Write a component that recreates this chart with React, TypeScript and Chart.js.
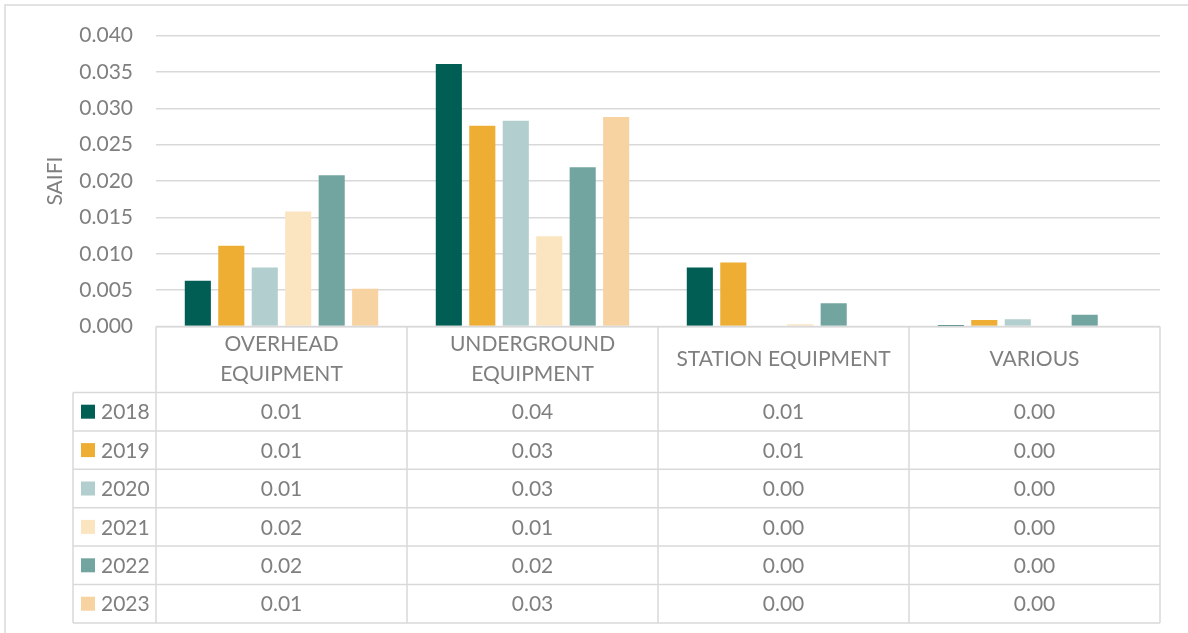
import React, { useEffect, useRef } from "react";
import { Chart, registerables } from "chart.js";

Chart.register(...registerables);

const categories: string[][] = [
  ["OVERHEAD", "EQUIPMENT"],
  ["UNDERGROUND", "EQUIPMENT"],
  ["STATION EQUIPMENT"],
  ["VARIOUS"],
];
const years = ["2018", "2019", "2020", "2021", "2022", "2023"];
const s2018 = [0.0063, 0.0361, 0.0081, 0.0002];
const s2019 = [0.0111, 0.0276, 0.0088, 0.0009];
const s2020 = [0.0081, 0.0283, 0.0, 0.001];
const s2021 = [0.0158, 0.0124, 0.0003, 0.0];
const s2022 = [0.0208, 0.0219, 0.0032, 0.0016];
const s2023 = [0.0052, 0.0288, 0.0, 0.0];
const seriesValues = [s2018, s2019, s2020, s2021, s2022, s2023];
const colors = ["#005E55", "#EDAE33", "#B3CECE", "#FBE5C0", "#73A5A0", "#F7D3A1"];
const yTicks = [0, 0.005, 0.01, 0.015, 0.02, 0.025, 0.03, 0.035, 0.04];

const FONT = "Lato, 'Open Sans', sans-serif";
const TEXT = "#7F7F7F";
const LINE = "#D9D9D9";

const tablePlugin = {
  id: "dataTable",
  beforeDraw(chart: any) {
    const ctx = chart.ctx;
    ctx.save();
    ctx.strokeStyle = LINE;
    ctx.lineWidth = 1.5;
    ctx.strokeRect(5, 5, chart.width + 20, chart.height + 20);
    ctx.restore();
  },
  afterDraw(chart: any) {
    const ctx = chart.ctx;
    const area = chart.chartArea;
    const n = categories.length;
    const colW = (area.right - area.left) / n;
    const top = area.bottom;
    const headerH = 66;
    const rowH = 38.4;
    const tableLeft = 73;
    const headerBottom = top + headerH;
    const bottom = headerBottom + rowH * years.length;

    ctx.save();
    ctx.strokeStyle = LINE;
    ctx.lineWidth = 1.5;
    ctx.beginPath();
    ctx.moveTo(area.left, top);
    ctx.lineTo(area.right, top);
    for (let r = 0; r <= years.length; r++) {
      const y = headerBottom + r * rowH;
      ctx.moveTo(tableLeft, y);
      ctx.lineTo(area.right, y);
    }
    ctx.moveTo(tableLeft, headerBottom);
    ctx.lineTo(tableLeft, bottom);
    for (let c = 0; c <= n; c++) {
      const x = area.left + c * colW;
      ctx.moveTo(x, top);
      ctx.lineTo(x, bottom);
    }
    ctx.stroke();

    ctx.fillStyle = TEXT;
    ctx.font = `21px ${FONT}`;
    ctx.textBaseline = "middle";
    ctx.textAlign = "center";
    categories.forEach((lines, c) => {
      const cx = area.left + (c + 0.5) * colW;
      const cy = top + headerH / 2;
      const lh = 30;
      lines.forEach((ln, i) => {
        const y = cy + (i - (lines.length - 1) / 2) * lh;
        ctx.fillText(ln, cx, y);
      });
    });
    years.forEach((yr, r) => {
      const cy = headerBottom + (r + 0.5) * rowH;
      ctx.fillStyle = colors[r];
      ctx.fillRect(81, cy - 7, 14, 14);
      ctx.fillStyle = TEXT;
      ctx.textAlign = "left";
      ctx.fillText(yr, 101, cy + 1);
      ctx.textAlign = "center";
      seriesValues[r].forEach((v, c) => {
        const cx = area.left + (c + 0.5) * colW;
        ctx.fillText(v.toFixed(2), cx, cy + 1);
      });
    });
    ctx.restore();
  },
};

export default function App() {
  const ref = useRef<HTMLCanvasElement>(null);
  useEffect(() => {
    document.body.style.margin = "0";
    const chart = new Chart(ref.current as HTMLCanvasElement, {
      type: "bar",
      data: {
        labels: categories.map((c) => c.join(" ")),
        datasets: years.map((y, i) => ({
          label: y,
          data: seriesValues[i],
          backgroundColor: colors[i],
          borderWidth: 0,
          categoryPercentage: 0.8,
          barPercentage: 0.78,
        })),
      },
      options: {
        responsive: false,
        animation: false,
        layout: { padding: { left: 5, right: 28, top: 18, bottom: 306.5 } },
        plugins: { legend: { display: false }, tooltip: { enabled: false } },
        scales: {
          x: { display: false },
          y: {
            min: 0,
            max: 0.04,
            afterBuildTicks: (scale: any) => {
              scale.ticks = yTicks.map((v) => ({ value: v }));
            },
            afterFit: (scale: any) => {
              scale.width = 151;
            },
            ticks: {
              padding: 23,
              color: TEXT,
              font: { family: FONT, size: 21 },
              callback: (v: any) => Number(v).toFixed(3),
            },
            grid: { color: LINE, lineWidth: 1.5, drawTicks: false },
            border: { display: false },
            title: {
              display: true,
              text: "SAIFI",
              color: TEXT,
              font: { family: FONT, size: 21 },
              padding: { top: 38, bottom: 0 },
            },
          },
        },
      },
      plugins: [tablePlugin],
    });
    return () => chart.destroy();
  }, []);
  return <canvas ref={ref} width={1188} height={633} style={{ display: "block", width: 1188, height: 633 }} />;
}
